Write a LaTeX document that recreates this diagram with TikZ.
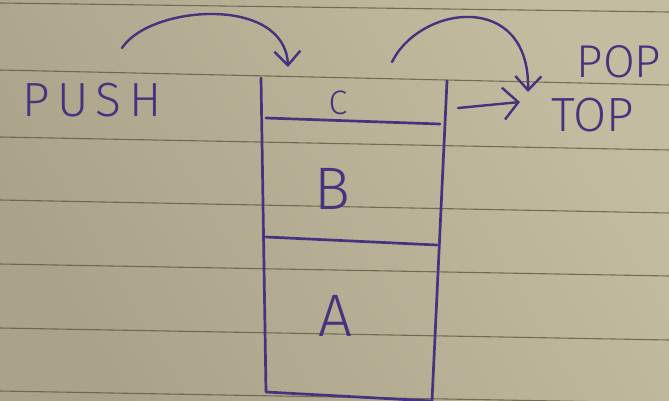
\documentclass[tikz,border=0pt]{standalone}
\usepackage{fontspec}
\newfontfamily\hand{Fira Sans}[UprightFont={* Light}]
\usetikzlibrary{arrows.meta}
\definecolor{paper}{RGB}{196,188,160}
\definecolor{paperdark}{RGB}{170,163,138}
\definecolor{rule}{RGB}{88,84,60}
\definecolor{ink}{RGB}{68,52,128}
\tikzset{
  ruling/.style={draw=rule, line width=1.1pt, opacity=0.75},
  inkline/.style={draw=ink, line width=2.7pt, line cap=round, line join=round},
  curvearrow/.style={inkline, line width=2.4pt, -{Straight Barb[length=14pt,width=26pt,line width=2.4pt]}},
  straightarrow/.style={inkline, line width=2.4pt, -{Straight Barb[length=15pt,width=32pt,line width=2.4pt]}},
  word/.style={text=ink, inner sep=0pt, font=\hand\fontsize{46}{46}\selectfont},
  letter/.style={text=ink, inner sep=0pt, font=\hand\fontsize{60}{60}\selectfont},
}
\begin{document}
\begin{tikzpicture}[x=1pt,y=-1pt]
\useasboundingbox (0,0) rectangle (669,401);
\shade[left color=paper, right color=paperdark, shading angle=-60] (0,0) rectangle (669,401);
% ruled lines of the paper
\foreach \l/\r in {3/12, 70/85, 137/150, 200/213, 264/276, 328/340, 391/403}
  \draw[ruling] (0,\l) -- (669,\r);

% stack outline
\coordinate (stl) at (261,78);
\coordinate (str) at (447,81);
\coordinate (sbl) at (266,392);
\coordinate (sbr) at (432,401);
\draw[inkline] (stl) -- (sbl) -- (sbr);
\draw[inkline] (str) -- (sbr);
% dividers
\coordinate (c1) at (266,118);
\coordinate (c2) at (440,124);
\coordinate (b1) at (266,237);
\coordinate (b2) at (437,245);
\draw[inkline] (c1) -- (c2);
\draw[inkline] (b1) -- (b2);

% cell labels
\node[text=ink, inner sep=0pt, font=\hand\fontsize{34}{34}\selectfont] (c) at (338,103) {C};
\node[letter] (b) at (332,189) {B};
\node[letter] (a) at (335,316) {A};

% side labels
\node[word, font=\hand\fontsize{48}{48}\selectfont\addfontfeatures{LetterSpace=16}] (push) at (92,100) {PUSH};
\node[word, font=\hand\fontsize{48}{48}\selectfont] (top) at (593,115) {TOP};
\node[word, font=\hand\fontsize{46}{46}\selectfont] (pop) at (619,62) {POP};

% arrows
\coordinate (ps) at (122,48);
\coordinate (pe) at (288,67);
\draw[curvearrow] (ps) .. controls (150,5) and (285,-5) .. (pe);
\coordinate (os) at (392,62);
\coordinate (oe) at (528,92);
\draw[curvearrow] (os) .. controls (420,5) and (530,-10) .. (oe);
\coordinate (ts) at (458,108);
\coordinate (te) at (520,102);
\draw[straightarrow] (ts) -- (te);
\end{tikzpicture}
\end{document}
